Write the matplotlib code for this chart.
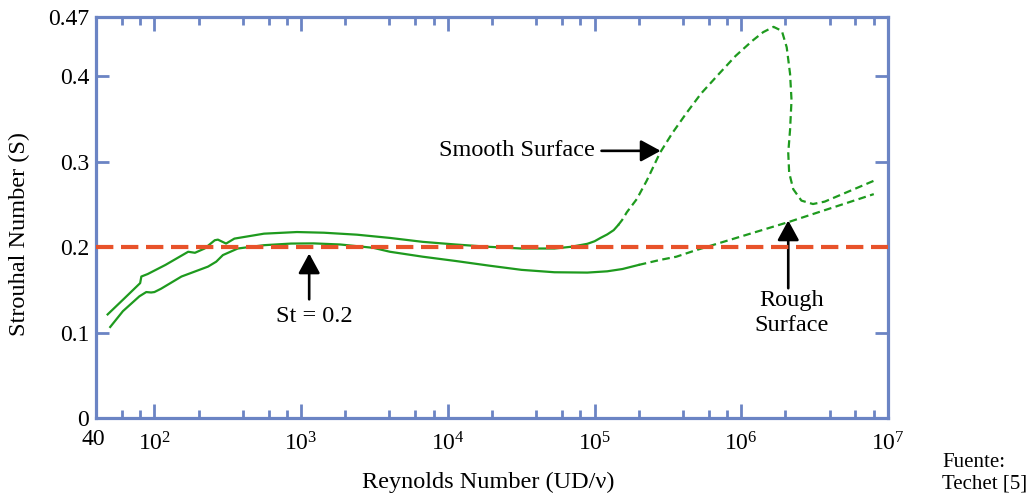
import matplotlib
matplotlib.use("Agg")
import matplotlib.pyplot as plt
from matplotlib.transforms import ScaledTranslation

plt.rcParams['font.family'] = ['Liberation Serif', 'DejaVu Serif']
plt.rcParams['mathtext.default'] = 'regular'
plt.rcParams['lines.scale_dashes'] = False

# ---- data ----
smooth_solid_re = [48, 62, 80, 81.5, 90, 119, 170, 189, 220, 258, 271, 308, 351, 559, 937,
                   1432, 2400, 4030, 6750, 11300, 19000, 31800, 53300, 69000, 89300, 100000,
                   110000, 122000, 135000, 145000]
smooth_solid_st = [0.1213, 0.1396, 0.158, 0.1657, 0.1686, 0.1793, 0.1947, 0.1935, 0.1985, 0.2082,
                   0.2089, 0.2043, 0.2101, 0.2159, 0.2178, 0.2170, 0.2147, 0.2109, 0.2063, 0.2032,
                   0.2005, 0.1985, 0.1985, 0.2005, 0.2040, 0.2070, 0.2110, 0.2150, 0.2200, 0.2260]
smooth_dash_re = [145000, 154000, 166000, 194000, 227000, 279000, 339000, 422000, 532000, 706000,
                  915000, 1.19e6, 1.41e6, 1.66e6, 1.89e6, 2.04e6, 2.15e6, 2.20e6, 2.15e6, 2.09e6,
                  2.12e6, 2.26e6, 2.57e6, 3.08e6, 3.7e6, 8.0e6]
smooth_dash_st = [0.2260, 0.2318, 0.2410, 0.2564, 0.2781, 0.3105, 0.3337, 0.3569, 0.3800, 0.4032,
                  0.4241, 0.4418, 0.4519, 0.4581, 0.4534, 0.4342, 0.4032, 0.3723, 0.3375, 0.3105,
                  0.2874, 0.2680, 0.2546, 0.2506, 0.2534, 0.2778]
rough_solid_re = [50, 61, 79, 88, 95, 100, 111, 153, 232, 264, 293, 370, 559, 855, 1220, 1853,
                  3105, 4030, 6750, 11300, 19000, 31800, 53300, 89300, 122000, 155000, 200000]
rough_solid_st = [0.1066, 0.1251, 0.1425, 0.1475, 0.1470, 0.1475, 0.1514, 0.1657, 0.1773, 0.1831,
                  0.1908, 0.1985, 0.2024, 0.2043, 0.2045, 0.2032, 0.1993, 0.1947, 0.1889, 0.1839,
                  0.1785, 0.1735, 0.1707, 0.1703, 0.1718, 0.1745, 0.1793]
rough_dash_re = [200000, 279000, 361000, 492000, 2.09e6, 8.0e6]
rough_dash_st = [0.1793, 0.1851, 0.1889, 0.1966, 0.2294, 0.2622]
st_ref = 0.2

x_ticks = [40, 1e2, 1e3, 1e4, 1e5, 1e6, 1e7]
x_ticklabels = ['40', r'$10^{2}$', r'$10^{3}$', r'$10^{4}$', r'$10^{5}$', r'$10^{6}$', r'$10^{7}$']
x_minor = [60, 80] + [m * 10 ** e for e in range(2, 7) for m in (2, 4, 6, 8)]
y_ticks = [0, 0.1, 0.2, 0.3, 0.4, 0.47]
y_ticklabels = ['0', '0.1', '0.2', '0.3', '0.4', '0.47']

green = '#1e9a1e'
red = '#e8522a'
frame = '#6b84c4'

fig = plt.figure(figsize=(10.32, 4.98), dpi=100)
ax = fig.add_axes([96 / 1032, 80 / 498, 792 / 1032, 401.3 / 498])
ax.set_xscale('log')
ax.set_xlim(40, 1e7)
ax.set_ylim(0, 0.47)

ax.plot(smooth_solid_re, smooth_solid_st, color=green, lw=1.6, solid_joinstyle='round')
ax.plot(smooth_dash_re, smooth_dash_st, color=green, lw=1.6, dashes=(5.5, 3.2))
ax.plot(rough_solid_re, rough_solid_st, color=green, lw=1.6, solid_joinstyle='round')
ax.plot(rough_dash_re, rough_dash_st, color=green, lw=1.6, dashes=(5.5, 3.2))
ax.axhline(st_ref, color=red, lw=3, dashes=(12.5, 5.5), zorder=5)

for s in ax.spines.values():
    s.set_color(frame)
    s.set_linewidth(2.3)

ax.set_xticks(x_ticks)
ax.set_xticklabels(x_ticklabels)
ax.set_xticks(x_minor, minor=True)
ax.set_yticks(y_ticks)
ax.set_yticklabels(y_ticklabels)
ax.tick_params(axis='both', which='both', direction='in', top=True, right=True,
               color=frame, width=2, labelsize=17, pad=5)
ax.tick_params(axis='x', which='major', length=10)
ax.tick_params(axis='x', which='minor', length=6)
ax.tick_params(axis='y', which='major', length=9.5)
ax.tick_params(axis='y', which='minor', length=0)

xlabels = ax.get_xticklabels()
off = ScaledTranslation(0, -5 / 72, fig.dpi_scale_trans)
for lbl in xlabels[1:]:
    lbl.set_transform(lbl.get_transform() + off)
xlabels[0].set_transform(xlabels[0].get_transform()
                         + ScaledTranslation(-2 / 72, -3 / 72, fig.dpi_scale_trans))

ax.set_xlabel('Reynolds Number (UD/ν)', fontsize=17.5)
ax.xaxis.set_label_coords(0.495, -0.135)
ax.set_ylabel('Strouhal Number (S)', fontsize=17.5)
ax.yaxis.set_label_coords(-0.083, 0.4585)

arrow = dict(arrowstyle='-|>,head_length=0.55,head_width=0.3', color='black', lw=1.9,
             mutation_scale=22, shrinkA=0, shrinkB=0)
ax.annotate('Smooth Surface', xy=(2.82e5, 0.3129), xytext=(1.0e5, 0.3129),
            ha='right', va='center', fontsize=17.5,
            arrowprops=dict(arrow, shrinkA=3))
ax.annotate('', xy=(1135, 0.1927), xytext=(1135, 0.139), arrowprops=arrow)
ax.text(1239, 0.1193, 'St = 0.2', ha='center', va='center', fontsize=17.5)
ax.annotate('', xy=(2.09e6, 0.2314), xytext=(2.09e6, 0.152), arrowprops=arrow)
ax.text(2.21e6, 0.1228, 'Rough\nSurface', ha='center', va='center', fontsize=17.5,
        multialignment='center', linespacing=1.25)

fig.text(942 / 1032, 1 - 467 / 498, 'Fuente:', fontsize=15, va='baseline', ha='left')
fig.text(942 / 1032, 1 - 488 / 498, 'Techet [5]', fontsize=15, va='baseline', ha='left')

fig.savefig('out.png', dpi=100)
